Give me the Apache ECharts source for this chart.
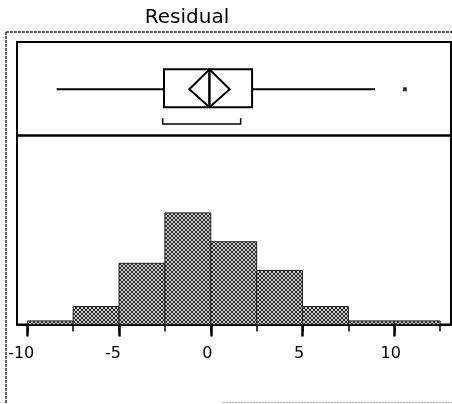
<!DOCTYPE html>
<html><head><meta charset="utf-8">
<script src="https://cdn.jsdelivr.net/npm/echarts@6/dist/echarts.min.js"></script>
<style>html,body{margin:0;padding:0;background:#fff}#c{width:452px;height:404px}</style>
</head><body><div id="c"></div>
<script>
// ---- data ----
const titleText = 'Residual';
const binStarts = [-10, -7.5, -5, -2.5, 0, 2.5, 5, 7.5, 10];
const binWidth = 2.5;
const counts = [1, 5, 17, 31, 23, 15, 5, 1, 1];
const boxStats = [-8.4, -2.55, -0.08, 2.25, 8.95];   // low whisker, Q1, median, Q3, high whisker
const meanDiamond = [-0.07, -1.17, 1.03];           // mean, lower CI, upper CI
const shortestHalf = [-2.62, 1.63];
const outliers = [10.58];
const majorTicks = [-10, -5, 0, 5, 10];
const minorTicks = [-10, -7.5, -5, -2.5, 0, 2.5, 5, 7.5, 10, 12.5];
const xMin = -10.56, xMax = 13.09;
const countMax = 52.5;

// ---- pattern fill ----
const pc = document.createElement('canvas'); pc.width = 4; pc.height = 4;
const g = pc.getContext('2d');
g.fillStyle = '#cfcfcf'; g.fillRect(0, 0, 4, 4);
g.fillStyle = '#262626';
[[0,0],[1,1],[2,2],[3,3],[3,0],[2,1],[1,2],[0,3]].forEach(([x,y]) => g.fillRect(x, y, 1, 1));
const hatch = { image: pc, repeat: 'repeat' };

const histData = binStarts.map((s, i) => [s, s + binWidth, counts[i]]);

const FONT = 'DejaVu Sans';
const chart = echarts.init(document.getElementById('c'), null, { renderer: 'canvas' });

// box panel vertical positions (fractions of the panel, y axis 0..1)
const Y_MID = 0.494, Y_TOP = 0.708, Y_BOT = 0.302, Y_BR = 0.123, Y_BRT = 0.184;

chart.setOption({
  animation: false,
  backgroundColor: '#fff',
  grid: [
    { left: 17, top: 42, width: 434, height: 93.5, show: true, borderColor: '#000', borderWidth: 2, backgroundColor: 'transparent' },
    { left: 17, top: 135.5, width: 434, height: 189, show: true, borderColor: '#000', borderWidth: 2, backgroundColor: 'transparent' }
  ],
  xAxis: [
    { gridIndex: 0, type: 'value', min: xMin, max: xMax, show: false },
    { gridIndex: 1, type: 'value', min: xMin, max: xMax, position: 'bottom',
      axisLine: { show: true, lineStyle: { color: '#000', width: 2 } },
      axisTick: { show: true, customValues: majorTicks, length: 12, lineStyle: { color: '#000', width: 2.5 } },
      axisLabel: { show: true, customValues: majorTicks, margin: 21, color: '#000', fontFamily: FONT, fontSize: 16,
        padding: [0, 7, 0, 0],
        formatter: v => (v < 0 ? '-' + Math.abs(v) + ' ' : String(v)) },
      splitLine: { show: false } },
    { gridIndex: 1, type: 'value', min: xMin, max: xMax, position: 'bottom',
      axisLine: { show: false },
      axisTick: { show: true, customValues: minorTicks, length: 7, lineStyle: { color: '#000', width: 1.5 } },
      axisLabel: { show: false }, splitLine: { show: false } }
  ],
  yAxis: [
    { gridIndex: 0, type: 'value', min: 0, max: 1, show: false },
    { gridIndex: 1, type: 'value', min: 0, max: countMax, show: false }
  ],
  graphic: [
    { type: 'text', style: { text: titleText, x: 187, y: 17.5, align: 'center', verticalAlign: 'middle', font: '20px "DejaVu Sans"', fill: '#000' } },
    { type: 'line', shape: { x1: 6, y1: 32, x2: 452, y2: 32 }, style: { stroke: '#333', lineWidth: 1.5, lineDash: [3, 1] } },
    { type: 'line', shape: { x1: 6, y1: 32, x2: 6, y2: 404 }, style: { stroke: '#333', lineWidth: 1.5, lineDash: [3, 1] } },
    { type: 'line', shape: { x1: 223, y1: 402.5, x2: 452, y2: 402.5 }, style: { stroke: '#aaa', lineWidth: 1, lineDash: [2, 1] } }
  ],
  series: [
    { type: 'custom', xAxisIndex: 1, yAxisIndex: 1, data: histData, encode: { x: [0, 1], y: 2 },
      renderItem: (p, api) => {
        const a = api.coord([api.value(0), api.value(2)]);
        const b = api.coord([api.value(1), 0]);
        return { type: 'rect', shape: { x: a[0], y: a[1], width: b[0] - a[0], height: b[1] - a[1] },
          style: { fill: hatch, stroke: '#222', lineWidth: 1 } };
      } },
    { type: 'custom', xAxisIndex: 0, yAxisIndex: 0, data: [boxStats], encode: { x: [0, 1, 2, 3, 4] },
      renderItem: (p, api) => {
        const v = [0,1,2,3,4].map(i => api.value(i));
        const c = (x, y) => api.coord([x, y]);
        const lo = c(v[0], Y_MID), q1m = c(v[1], Y_MID), q3m = c(v[3], Y_MID), hi = c(v[4], Y_MID);
        const q1t = c(v[1], Y_TOP), q3b = c(v[3], Y_BOT);
        const mt = c(v[2], Y_TOP), mb = c(v[2], Y_BOT);
        const st = { stroke: '#000', lineWidth: 2, fill: null };
        return { type: 'group', children: [
          { type: 'line', shape: { x1: lo[0], y1: lo[1], x2: q1m[0], y2: q1m[1] }, style: st },
          { type: 'line', shape: { x1: q3m[0], y1: q3m[1], x2: hi[0], y2: hi[1] }, style: st },
          { type: 'rect', shape: { x: q1t[0], y: q1t[1], width: q3b[0] - q1t[0], height: q3b[1] - q1t[1] }, style: st },
          { type: 'line', shape: { x1: mt[0], y1: mt[1], x2: mb[0], y2: mb[1] }, style: st }
        ] };
      } },
    { type: 'custom', xAxisIndex: 0, yAxisIndex: 0, data: [meanDiamond], encode: { x: [0, 1, 2] },
      renderItem: (p, api) => {
        const m = api.value(0), l = api.value(1), u = api.value(2);
        const pts = [api.coord([l, Y_MID]), api.coord([m, Y_TOP]), api.coord([u, Y_MID]), api.coord([m, Y_BOT])];
        const mt = api.coord([m, Y_TOP]), mb = api.coord([m, Y_BOT]);
        return { type: 'group', children: [
          { type: 'polygon', shape: { points: pts }, style: { stroke: '#000', lineWidth: 2, fill: null } },
          { type: 'line', shape: { x1: mt[0], y1: mt[1], x2: mb[0], y2: mb[1] }, style: { stroke: '#000', lineWidth: 2 } }
        ] };
      } },
    { type: 'custom', xAxisIndex: 0, yAxisIndex: 0, data: [shortestHalf], encode: { x: [0, 1] },
      renderItem: (p, api) => {
        const a = api.coord([api.value(0), Y_BRT]), b = api.coord([api.value(0), Y_BR]);
        const c = api.coord([api.value(1), Y_BR]), d = api.coord([api.value(1), Y_BRT]);
        return { type: 'polyline', shape: { points: [a, b, c, d] }, style: { stroke: '#000', lineWidth: 1.5, fill: null } };
      } },
    { type: 'scatter', xAxisIndex: 0, yAxisIndex: 0, symbol: 'rect', symbolSize: 4,
      itemStyle: { color: '#000' }, data: outliers.map(x => [x, Y_MID]) }
  ]
});
</script>
</body></html>
